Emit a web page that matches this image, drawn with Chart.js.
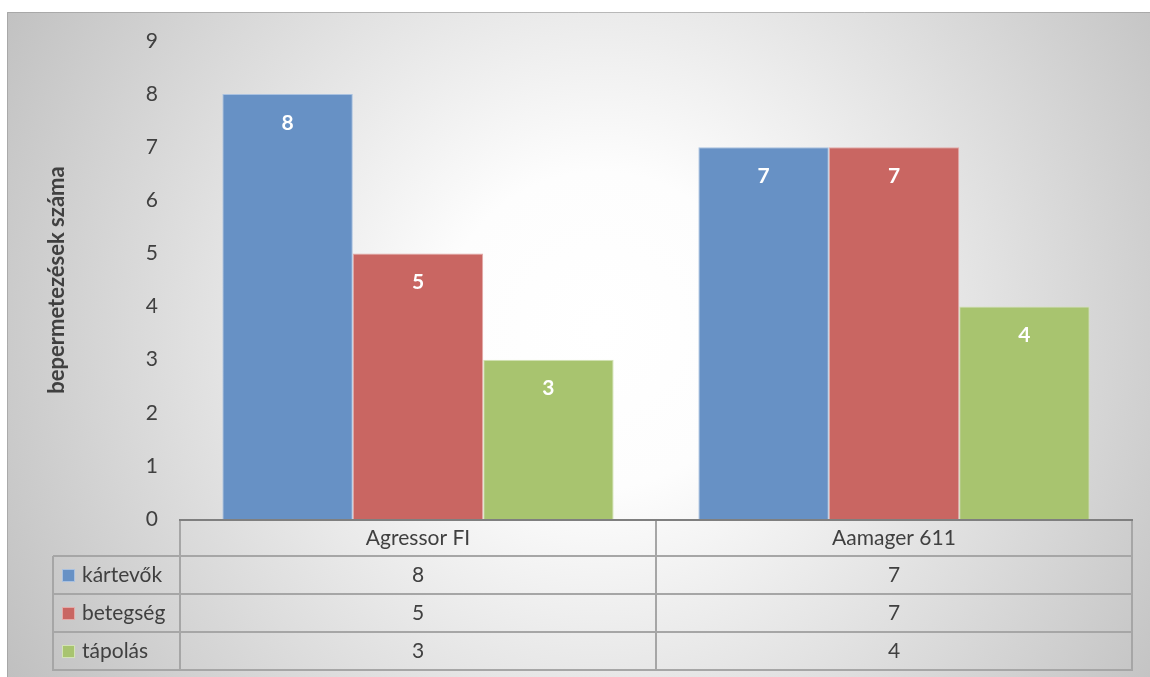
<!DOCTYPE html>
<html>
<head>
<meta charset="utf-8">
<script src="https://cdn.jsdelivr.net/npm/chart.js@4.4.0/dist/chart.umd.min.js"></script>
<style>
  html, body { margin: 0; padding: 0; background: #ffffff; }
  #wrap { width: 1150px; height: 677px; position: relative; }
</style>
</head>
<body>
<div id="wrap"><canvas id="c" width="1150" height="677"></canvas></div>
<script>
const categories = ['Agressor FI', 'Aamager 611'];
const seriesNames = ['kártevők', 'betegség', 'tápolás'];
const kartevok = [8, 7];
const betegseg = [5, 7];
const tapolas = [3, 4];
const yTicks = [0, 1, 2, 3, 4, 5, 6, 7, 8, 9];
const yTitle = 'bepermetezések száma';

const colors = ['#6791c5', '#c96662', '#a8c46f'];
const edgeColors = ['#a9c1e0', '#e4aaa8', '#d3e3b5'];
const FONT = 'Lato, "Open Sans", sans-serif';
const TXT = '#404040';

const bgPlugin = {
  id: 'bg',
  beforeDraw(chart) {
    const ctx = chart.ctx;
    ctx.save();
    ctx.fillStyle = '#ffffff';
    ctx.fillRect(0, 0, chart.width, chart.height);
    const g = ctx.createRadialGradient(600, 330, 0, 600, 330, 720);
    g.addColorStop(0, '#ffffff');
    g.addColorStop(0.22, '#fdfdfd');
    g.addColorStop(1, '#bcbcbc');
    ctx.fillStyle = g;
    ctx.fillRect(7, 12, chart.width - 7, chart.height - 12);
    ctx.strokeStyle = 'rgba(150,150,150,0.6)';
    ctx.lineWidth = 1;
    ctx.beginPath();
    ctx.moveTo(7.5, chart.height);
    ctx.lineTo(7.5, 12.5);
    ctx.lineTo(chart.width, 12.5);
    ctx.stroke();
    ctx.restore();
  }
};

const tablePlugin = {
  id: 'dataTable',
  afterDraw(chart) {
    const ctx = chart.ctx;
    const xs = chart.scales.x;
    const area = chart.chartArea;
    const n = categories.length;
    const cw = (area.right - area.left) / n;
    const rowsY = [area.bottom + 1, 556, 594, 632, 670];
    const leftX = 53;
    const data = [kartevok, betegseg, tapolas];
    ctx.save();
    ctx.strokeStyle = '#a6a6a6';
    ctx.lineWidth = 2;
    ctx.beginPath();
    for (let r = 1; r < rowsY.length; r++) {
      ctx.moveTo(leftX, rowsY[r]);
      ctx.lineTo(area.right, rowsY[r]);
    }
    ctx.moveTo(leftX, rowsY[1]);
    ctx.lineTo(leftX, rowsY[4] + 1);
    for (let i = 0; i <= n; i++) {
      const x = area.left + i * cw;
      ctx.moveTo(x, rowsY[0]);
      ctx.lineTo(x, rowsY[4] + 1);
    }
    ctx.stroke();
    ctx.strokeStyle = '#7f7f7f';
    ctx.lineWidth = 2;
    ctx.beginPath();
    ctx.moveTo(area.left - 1, area.bottom + 1);
    ctx.lineTo(area.right + 1, area.bottom + 1);
    ctx.stroke();
    ctx.fillStyle = TXT;
    ctx.font = '21px ' + FONT;
    ctx.textAlign = 'center';
    ctx.textBaseline = 'middle';
    for (let i = 0; i < n; i++) {
      const cx = xs.getPixelForValue(i);
      ctx.fillText(categories[i], cx, (rowsY[0] + rowsY[1]) / 2);
      for (let s = 0; s < data.length; s++) {
        ctx.fillText(String(data[s][i]), cx, (rowsY[s + 1] + rowsY[s + 2]) / 2);
      }
    }
    ctx.textAlign = 'left';
    for (let s = 0; s < seriesNames.length; s++) {
      const cy = (rowsY[s + 1] + rowsY[s + 2]) / 2;
      ctx.fillStyle = colors[s];
      ctx.fillRect(62, cy - 6, 13, 13);
      ctx.strokeStyle = edgeColors[s];
      ctx.lineWidth = 1;
      ctx.strokeRect(62.5, cy - 5.5, 12, 12);
      ctx.fillStyle = TXT;
      ctx.fillText(seriesNames[s], 82, cy);
    }
    ctx.restore();
  }
};

const labelPlugin = {
  id: 'barLabels',
  afterDatasetsDraw(chart) {
    const ctx = chart.ctx;
    ctx.save();
    ctx.fillStyle = '#ffffff';
    ctx.font = 'bold 21px ' + FONT;
    ctx.textAlign = 'center';
    ctx.textBaseline = 'middle';
    chart.data.datasets.forEach((ds, di) => {
      const meta = chart.getDatasetMeta(di);
      meta.data.forEach((bar, i) => {
        ctx.fillText(String(ds.data[i]), bar.x, bar.y + 29);
      });
    });
    ctx.restore();
  }
};

new Chart(document.getElementById('c'), {
  type: 'bar',
  data: {
    labels: categories,
    datasets: [
      { label: seriesNames[0], data: kartevok },
      { label: seriesNames[1], data: betegseg },
      { label: seriesNames[2], data: tapolas }
    ].map((d, i) => Object.assign(d, {
      backgroundColor: colors[i],
      borderColor: edgeColors[i],
      borderWidth: 1,
      categoryPercentage: 0.822,
      barPercentage: 1.0
    }))
  },
  options: {
    responsive: false,
    animation: false,
    devicePixelRatio: 1,
    layout: { padding: { left: 7, right: 18, top: 41, bottom: 158 } },
    plugins: {
      legend: { display: false },
      tooltip: { enabled: false }
    },
    scales: {
      x: { display: false },
      y: {
        min: 0,
        max: 9,
        afterFit(scale) { scale.width = 173; },
        afterBuildTicks(scale) { scale.ticks = yTicks.map(v => ({ value: v })); },
        grid: { display: false, drawTicks: false },
        border: { display: false },
        ticks: {
          padding: 22,
          color: TXT,
          font: { family: FONT, size: 21 }
        },
        title: {
          display: true,
          text: yTitle,
          color: TXT,
          font: { family: FONT, size: 22, weight: 'bold' },
          padding: { top: 37, bottom: 0 }
        }
      }
    }
  },
  plugins: [bgPlugin, tablePlugin, labelPlugin]
});
</script>
</body>
</html>
